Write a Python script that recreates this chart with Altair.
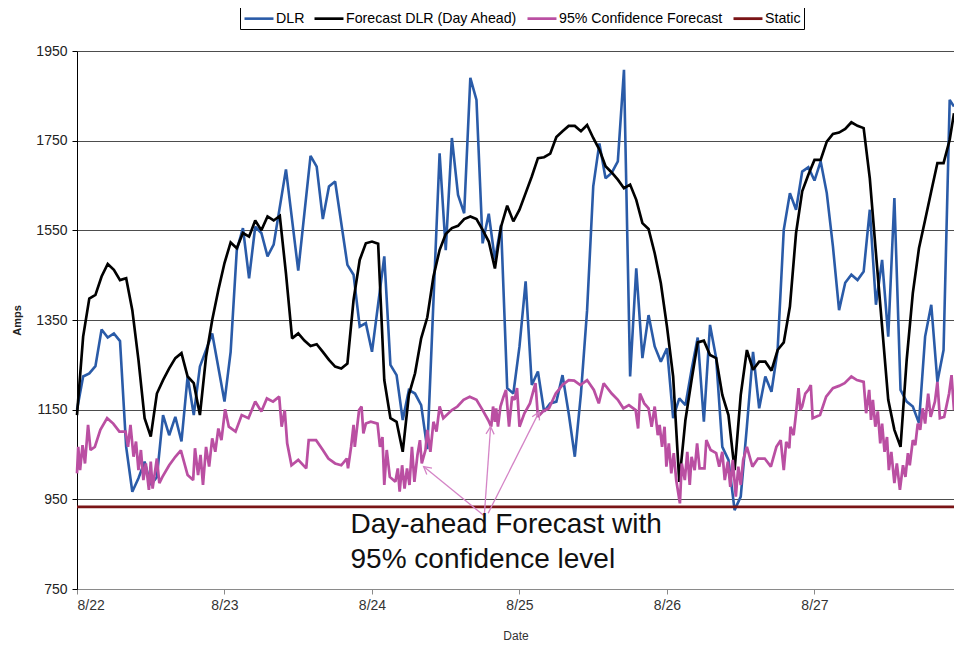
import math
import altair as alt
import pandas as pd

# ---------------- data (hours since 8/22 00:00, Amps) ----------------
dlr_h = [0, 1, 2, 3, 4, 5, 6, 7, 8, 9, 10, 11, 12, 13, 14, 15, 16, 17, 18, 19, 20, 22, 24, 25, 26, 27, 28,
         29, 30, 31, 32, 34, 36, 38, 39, 40, 41, 42, 44, 45, 46, 47, 48, 50, 51, 52, 53, 54, 55, 56, 57,
         59, 60, 61, 62, 63, 64, 65, 66, 67, 68, 69, 70, 71, 72, 73, 74, 75, 76, 77, 78, 79, 80, 81, 82,
         83, 84, 85, 86, 87, 88, 89, 90, 91, 92, 93, 94, 95, 96, 97, 98, 99, 100, 101, 102, 103, 104, 105,
         106, 107, 108, 109, 110, 111, 112, 113, 114, 115, 116, 117, 118, 119, 120, 121, 122, 123, 124,
         125, 126, 127, 128, 129, 130, 131, 132, 133, 134, 135, 136, 137, 138, 139, 140, 141, 142, 142.7]
dlr_v = [1150, 1224, 1231, 1247, 1329, 1311, 1320, 1303, 1067, 967, 997, 1034, 982, 1000, 1138, 1093, 1134,
         1079, 1224, 1138, 1246, 1320, 1168, 1279, 1506, 1555, 1443, 1558, 1544, 1492, 1518, 1686, 1460,
         1716, 1692, 1575, 1648, 1659, 1473, 1451, 1335, 1343, 1279, 1492, 1250, 1227, 1127, 1194, 1186,
         1160, 1062, 1722, 1506, 1756, 1629, 1588, 1890, 1841, 1521, 1587, 1484, 1562, 1198, 1186, 1291,
         1436, 1205, 1235, 1146, 1164, 1168, 1227, 1142, 1045, 1186, 1372, 1648, 1744, 1666, 1678, 1704,
         1908, 1224, 1465, 1265, 1361, 1291, 1257, 1287, 1131, 1175, 1160, 1239, 1311, 1123, 1339, 1265,
         1067, 1038, 926, 956, 1112, 1279, 1153, 1224, 1190, 1283, 1551, 1633, 1596, 1681, 1691, 1661,
         1704, 1633, 1514, 1372, 1433, 1451, 1439, 1458, 1596, 1384, 1484, 1313, 1622, 1194, 1168, 1157,
         1120, 1313, 1384, 1212, 1283, 1841, 1826]

fc_h = list(range(0, 143)) + [142.7]
fc_v = [1138, 1313, 1398, 1406, 1447, 1475, 1462, 1439, 1443, 1372, 1261, 1131, 1090, 1186, 1216, 1242,
        1265, 1276, 1224, 1209, 1138, 1268, 1350, 1417, 1477, 1523, 1510, 1544, 1536, 1572, 1550, 1581,
        1572, 1582, 1454, 1309, 1320, 1304, 1292, 1296, 1279, 1261, 1246, 1242, 1253, 1395, 1484, 1521,
        1525, 1520, 1216, 1131, 1123, 1056, 1183, 1231, 1309, 1356, 1447, 1506, 1542, 1555, 1560, 1575,
        1581, 1575, 1551, 1525, 1465, 1558, 1605, 1570, 1596, 1633, 1670, 1711, 1713, 1721, 1758, 1771,
        1783, 1783, 1771, 1785, 1756, 1730, 1693, 1679, 1663, 1644, 1652, 1618, 1566, 1553, 1499, 1432,
        1335, 1224, 989, 1127, 1216, 1300, 1304, 1272, 1265, 1183, 1138, 1015, 1183, 1283, 1239, 1257,
        1257, 1237, 1283, 1300, 1380, 1544, 1637, 1674, 1707, 1707, 1748, 1765, 1768, 1776, 1791, 1783,
        1778, 1666, 1499, 1335, 1172, 1105, 1067, 1261, 1410, 1510, 1573, 1637, 1700, 1700, 1752, 1811]

ci_h = [0, 0.2, 0.5, 0.9, 1.3, 1.8, 2.2, 2.9, 3.8, 4.9, 5.9, 6.9, 7.9, 8.3, 8.7, 9.2, 9.6, 10.0, 10.4, 10.8,
        11.2, 11.7, 12.0, 12.3, 13.0, 13.4, 13.9, 15.0, 16.0, 16.9, 18.0, 18.9, 19.2, 19.7, 20.1, 20.5,
        21.0, 21.5, 22.0, 22.5, 23.0, 23.5, 24.1, 24.7, 25.8, 26.8, 27.9, 29.0, 30.0, 30.9, 31.9, 32.9,
        33.3, 33.8, 34.2, 34.9, 36.0, 37.3, 37.7, 38.9, 40.0, 40.9, 42.0, 43.0, 43.9, 44.1, 44.6, 45.0,
        45.2, 45.9, 46.3, 46.6, 47.0, 47.8, 48.9, 49.3, 49.7, 50.0, 50.4, 50.9, 51.8, 52.2, 52.5, 52.9,
        53.3, 53.7, 54.1, 54.5, 54.9, 55.4, 55.8, 56.1, 56.7, 57.0, 57.5, 58.0, 58.5, 59.0, 59.6, 61.0,
        61.9, 62.9, 63.9, 65.0, 66.0, 66.9, 67.4, 67.7, 68.0, 68.2, 68.5, 68.9, 69.4, 69.8, 70.3, 70.8,
        71.2, 71.6, 72.0, 72.8, 73.7, 74.6, 75.0, 75.8, 76.8, 77.9, 79.0, 80.0, 80.9, 81.9, 83.0, 84.1,
        84.9, 85.7, 87.0, 88.0, 88.9, 89.8, 90.9, 91.3, 91.6, 92.3, 93.0, 93.5, 94.0, 94.5, 94.8, 95.2,
        95.6, 95.9, 96.3, 96.7, 97.1, 97.5, 98.1, 98.4, 98.9, 99.3, 99.7, 100.0, 100.5, 100.9, 101.3,
        102.1, 102.4, 103.1, 104.0, 104.5, 105.0, 105.4, 105.9, 106.3, 106.7, 107.2, 107.6, 108.0, 108.4,
        109.0, 109.9, 110.8, 111.9, 112.9, 113.8, 114.5, 115.0, 115.4, 115.9, 116.1, 116.6, 117.0, 117.4,
        117.7, 118.0, 118.5, 119.0, 119.4, 119.7, 120.9, 121.9, 123.0, 124.0, 124.9, 126.0, 126.9, 128.0,
        128.4, 128.9, 129.2, 129.5, 129.9, 130.3, 130.7, 131.0, 131.4, 131.8, 132.1, 132.5, 133.0, 133.4,
        133.9, 134.4, 134.8, 135.2, 135.5, 136.0, 136.4, 136.8, 137.2, 137.6, 138.0, 138.5, 138.9, 139.6,
        140.0, 140.4, 141.1, 141.9, 142.3, 142.7]
ci_v = [1008, 1067, 1015, 1071, 1030, 1116, 1060, 1067, 1105, 1131, 1119, 1101, 1101, 1067, 1116, 1045,
        1079, 1015, 1060, 993, 1030, 971, 1034, 974, 1041, 986, 1000, 1026, 1045, 1059, 1004, 993, 1064,
        1004, 1049, 982, 1067, 1023, 1086, 1056, 1108, 1082, 1151, 1112, 1101, 1138, 1131, 1168, 1146,
        1175, 1168, 1179, 1112, 1149, 1075, 1026, 1038, 1019, 1082, 1082, 1060, 1041, 1030, 1026, 1041,
        1019, 1067, 1116, 1067, 1149, 1157, 1097, 1119, 1123, 1119, 1067, 1089, 982, 1060, 1000, 989,
        1019, 967, 1026, 974, 1019, 982, 1067, 989, 1049, 1082, 1030, 1060, 1105, 1056, 1123, 1101, 1157,
        1131, 1149, 1157, 1172, 1179, 1172, 1149, 1127, 1112, 1157, 1123, 1153, 1112, 1157, 1179, 1194,
        1112, 1179, 1172, 1198, 1112, 1142, 1164, 1209, 1134, 1146, 1153, 1186, 1205, 1216, 1215, 1205,
        1216, 1194, 1164, 1209, 1186, 1172, 1153, 1160, 1149, 1108, 1186, 1164, 1153, 1112, 1157, 1093,
        1116, 1067, 1112, 1023, 1075, 1008, 1053, 993, 941, 1030, 993, 1056, 982, 1045, 1015, 1075, 1019,
        1019, 1082, 1060, 1053, 1023, 1056, 993, 1034, 978, 1038, 956, 1023, 982, 1038, 1067, 1023, 1041,
        1041, 1023, 1067, 1082, 1015, 1078, 1064, 1112, 1093, 1142, 1198, 1149, 1157, 1186, 1194, 1205,
        1131, 1138, 1179, 1198, 1203, 1209, 1224, 1216, 1212, 1142, 1194, 1127, 1172, 1112, 1146, 1075,
        1119, 1056, 1089, 1015, 1056, 986, 1030, 971, 1026, 1000, 1053, 1026, 1082, 1071, 1119, 1105,
        1153, 1119, 1186, 1134, 1168, 1212, 1131, 1134, 1186, 1227, 1149]

static_h = [0, 142.7]
static_v = [933, 933]

series_names = ["DLR", "Forecast DLR (Day Ahead)", "95% Confidence Forecast", "Static"]
series_colors = ["#2A5BA8", "#000000", "#BA4FA2", "#7A1416"]
series_widths = [2.6, 2.8, 3.2, 4.5]

day_labels = ["8/22", "8/23", "8/24", "8/25", "8/26", "8/27"]
day_ticks = [0, 24, 48, 72, 96, 120]
y_ticks = [750, 950, 1150, 1350, 1550, 1750, 1950]

note_lines = ["Day-ahead Forecast with", "95% confidence level"]
note_h = [44.5, 44.5]
note_v = [874, 797]

arrow_tail_h = [66.1, 66.3, 66.9]
arrow_tail_v = [915, 919, 919]
arrow_tip_h = [56.4, 67.3, 75.2]
arrow_tip_v = [1023, 1112, 1145]

# ---------------- layout ----------------
X_MAX = 142.7
Y_MIN, Y_MAX = 750, 1950
PLOT_W, PLOT_H = 877, 538
FONT = "Liberation Sans"

rows = []
for name, hs, vs in zip(series_names, [dlr_h, fc_h, ci_h, static_h], [dlr_v, fc_v, ci_v, static_v]):
    for i, (h, v) in enumerate(zip(hs, vs)):
        rows.append({"series": name, "hour": h, "amps": v, "order": i})
lines_df = pd.DataFrame(rows)

x_scale = alt.Scale(domain=[0, X_MAX], nice=False, zero=False)
y_scale = alt.Scale(domain=[Y_MIN, Y_MAX], nice=False, zero=False)

label_expr = "[" + ",".join("'%s'" % d for d in day_labels) + "][round(datum.value/24)]"

x_axis = alt.Axis(values=day_ticks, labelExpr=label_expr, grid=False, title="Date",
                  domainColor="#8a8a8a", tickColor="#8a8a8a", tickSize=5, labelPadding=4,
                  labelFontSize=14, labelColor="#333333", titleFontSize=12, titleFontWeight="normal",
                  titleColor="#333333", titleY=46, titleBaseline="middle")
y_axis = alt.Axis(values=y_ticks, format="d", grid=True, gridColor="#4d4d4d", gridWidth=1, title="Amps",
                  domainColor="#000000", tickColor="#000000", tickSize=5, labelPadding=5,
                  labelFontSize=14, labelColor="#222222", titleFontSize=11, titleFontWeight="bold",
                  titleColor="#222222", titleX=-60, titleY=PLOT_H / 2, titleBaseline="middle")

base_lines = alt.Chart(lines_df).mark_line(strokeJoin="miter", strokeMiterLimit=2).encode(
    x=alt.X("hour:Q", scale=x_scale, axis=x_axis),
    y=alt.Y("amps:Q", scale=y_scale, axis=y_axis),
    color=alt.Color("series:N", scale=alt.Scale(domain=series_names, range=series_colors),
                    sort=series_names, title=None,
                    legend=alt.Legend(orient="none", legendX=163, legendY=-44, direction="horizontal",
                                      symbolType="M-1,0H3.14", symbolStrokeWidth=4, symbolSize=196,
                                      labelFont=FONT, labelFontSize=14.2, labelColor="#000000",
                                      labelLimit=400, columnPadding=4, labelOffset=16, padding=3,
                                      strokeColor="#000000")),
    strokeWidth=alt.StrokeWidth("series:N", scale=alt.Scale(domain=series_names, range=series_widths),
                                legend=None),
    order="order:Q",
    detail="series:N",
)

# annotation arrows
SX = PLOT_W / X_MAX
SY = PLOT_H / (Y_MAX - Y_MIN)
arrow_rows = []
for th, tv, hh, hv in zip(arrow_tail_h, arrow_tail_v, arrow_tip_h, arrow_tip_v):
    dx = (hh - th) * SX
    dup = (hv - tv) * SY
    ang = math.degrees(math.atan2(dx, dup)) % 360
    arrow_rows.append({"h0": th, "v0": tv, "h1": hh, "v1": hv, "angle": ang})
arrow_df = pd.DataFrame(arrow_rows)

shafts = alt.Chart(arrow_df).mark_rule(color="#D484C6", strokeWidth=1.3).encode(
    x="h0:Q", y="v0:Q", x2="h1:Q", y2="v1:Q")
heads = alt.Chart(arrow_df).mark_point(shape="M-0.55,1L0,0L0.55,1", size=220, filled=False,
                                      color="#D484C6", strokeWidth=1.3, opacity=1).encode(
    x="h1:Q", y="v1:Q", angle=alt.Angle("angle:Q", scale=None))

note_df = pd.DataFrame({"text": note_lines, "hour": note_h, "amps": note_v})
note = alt.Chart(note_df).mark_text(align="left", baseline="alphabetic", font=FONT, fontSize=28,
                                    color="#111111").encode(x="hour:Q", y="amps:Q", text="text:N")

chart = alt.layer(base_lines, shafts, heads, note).properties(
    width=PLOT_W, height=PLOT_H,
    autosize=alt.AutoSizeParams(type="none"),
    padding={"left": 69, "top": 43, "right": 0, "bottom": 54},
    background="white",
).configure_view(strokeWidth=0).configure_axis(labelFont=FONT, titleFont=FONT)

chart.save("out.html", embed_options={"renderer": "svg", "actions": False})
